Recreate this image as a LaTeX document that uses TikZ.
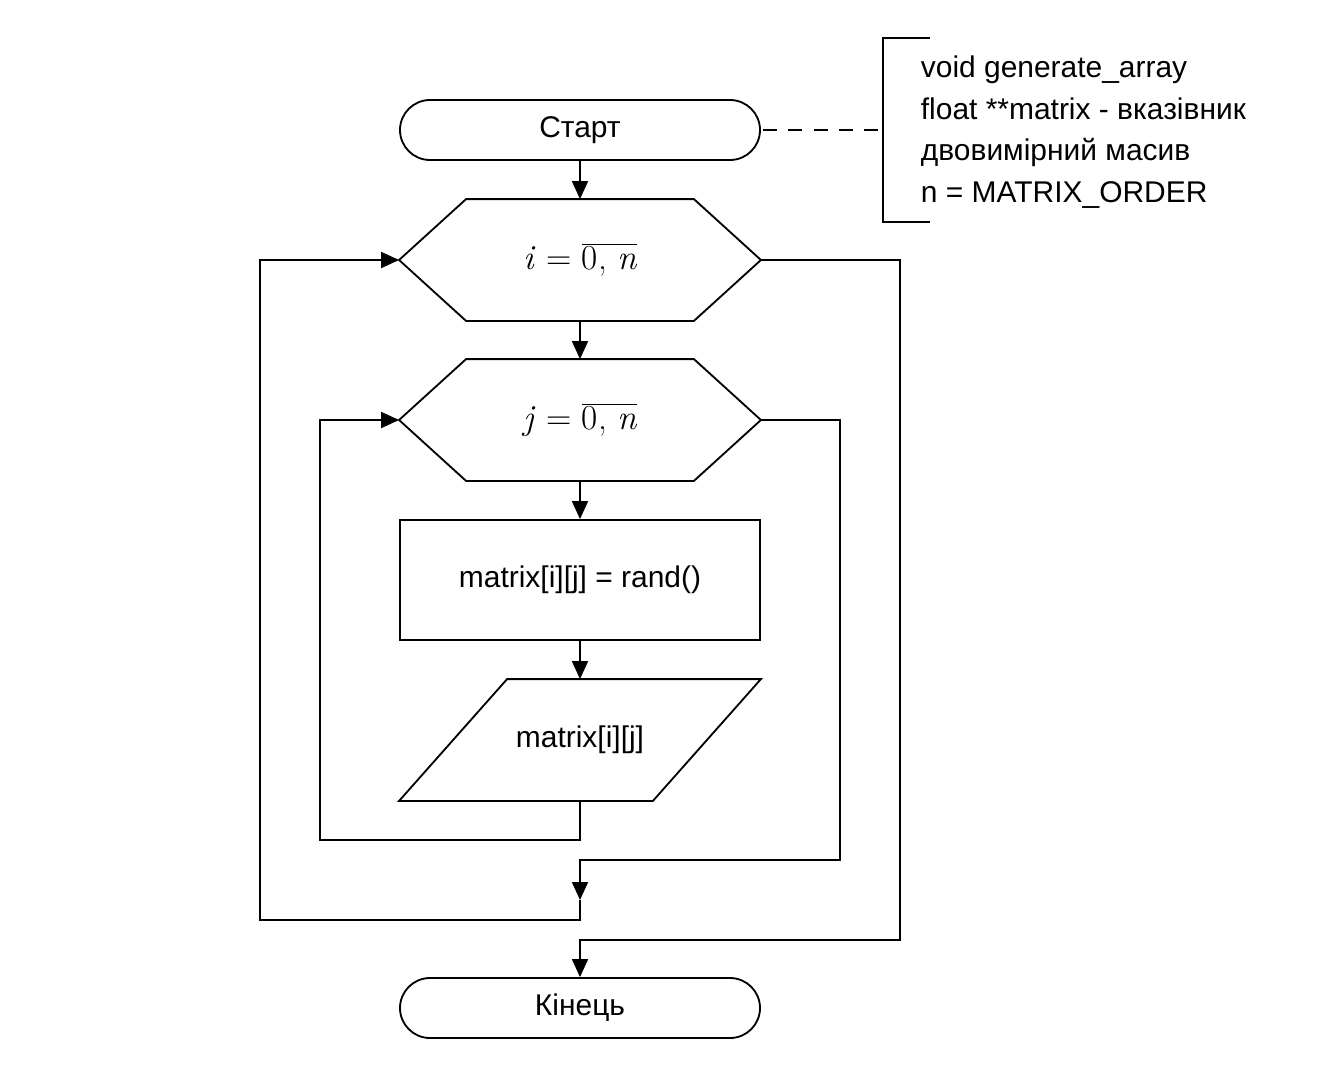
\documentclass[tikz,border=0pt]{standalone}
\usepackage{fontspec}
\setmainfont{Liberation Sans}
\newfontfamily\lmroman{Latin Modern Roman}
\usetikzlibrary{arrows.meta}
\tikzset{
  every node/.style = {font=\fontsize{21.3}{29.5}\selectfont},
  term/.style    = {draw, rounded corners=0.75cm, minimum width=9cm, minimum height=1.5cm},
  blockbox/.style = {rectangle, minimum width=9cm, minimum height=3cm, inner sep=0pt},
  proc/.style    = {draw, blockbox},
  arrow/.style   = {-{Triangle[length=0.45cm,width=0.4cm]}}
}
\newcommand{\range}[1]{{\lmroman\fontsize{25}{30}\selectfont\itshape #1\ \upshape=\ $\overline{\hbox{\lmroman\fontsize{25}{30}\selectfont 0,\ \itshape n}}$}}

\begin{document}
\begin{tikzpicture}[scale=0.5, line width=1.3pt]
		\useasboundingbox (0,0) rectangle (66.2,-53.8);

		% blocks
		\node[term]     (start)  at (29,-6.5)  {Старт};
		\node[blockbox] (fori)   at (29,-13)   {\range{i}};
		\node[blockbox] (forj)   at (29,-21)   {\range{j}};
		\node[proc]     (assign) at (29,-29)   {matrix[i][j] = rand()};
		\node[blockbox] (out)    at (29,-37)   {matrix[i][j]};
		\node[term]     (stop)   at (29,-50.4) {Кінець};

		% outlines of the loop heads and of the output block (shifts are scaled too)
		\foreach \hx in {fori,forj}
			\draw (\hx.west) -- ([xshift=3.35cm]\hx.north west) -- ([xshift=-3.35cm]\hx.north east)
				-- (\hx.east) -- ([xshift=-3.35cm]\hx.south east) -- ([xshift=3.35cm]\hx.south west) -- cycle;
		\draw ([xshift=5.4cm]out.north west) -- (out.north east) -- ([xshift=-5.4cm]out.south east) -- (out.south west) -- cycle;

		% comment
		\node[anchor=west, align=left, inner sep=0pt] (note) at (46,-6.6)
			{void generate\_array\\float **matrix - вказівник\\двовимірний масив\\n = MATRIX\_ORDER};
		\coordinate (brk) at (44.15,-6.5);
		\draw (46.5,-1.9) -- (44.15,-1.9) -- (44.15,-11.1) -- (46.5,-11.1);
		\draw[dashed, dash pattern=on 10pt off 8pt, line width=1pt] ([xshift=3pt]start.east) -- (brk);

		% corners of the loops
		\coordinate (jback) at (16,-42);
		\coordinate (jout)  at (42,-43);
		\coordinate (inext) at (29,-45);
		\coordinate (iback) at (13,-46);
		\coordinate (iout)  at (45,-47);

		% connectors
		\draw[arrow] (start.south) -- (fori.north);
		\draw[arrow] (fori.south) -- (forj.north);
		\draw[arrow] (forj.south) -- (assign.north);
		\draw[arrow] (assign.south) -- (out.north);
		\draw[arrow] (out.south) |- (jback) |- (forj.west);
		\draw[arrow] (forj.east) -| (jout) -| (inext);
		\draw[arrow] (inext) |- (iback) |- (fori.west);
		\draw[arrow] (fori.east) -| (iout) -| (stop.north);
	\end{tikzpicture}
\end{document}
